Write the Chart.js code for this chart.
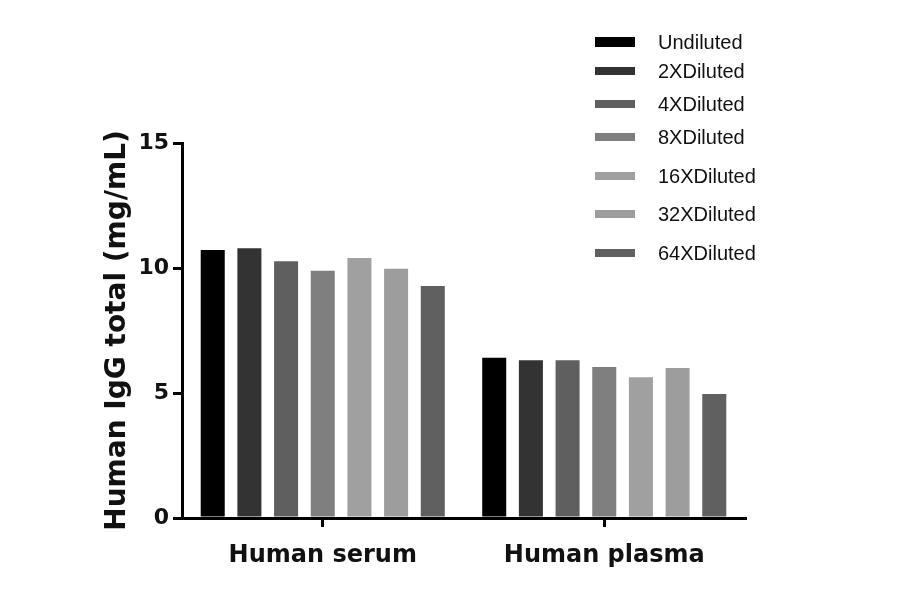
<!DOCTYPE html>
<html>
<head>
<meta charset="utf-8">
<script src="https://cdn.jsdelivr.net/npm/chart.js@4.4.1/dist/chart.umd.min.js"></script>
<style>
  html, body { margin: 0; padding: 0; background: #ffffff; }
  #wrap { width: 900px; height: 594px; position: relative; }
</style>
</head>
<body>
<div id="wrap"><canvas id="c" width="900" height="594"></canvas></div>
<script>
const categories = ["Human serum", "Human plasma"];
const seriesNames = ["Undiluted", "2XDiluted", "4XDiluted", "8XDiluted", "16XDiluted", "32XDiluted", "64XDiluted"];
const seriesColors = ["#000000", "#333333", "#5f5f5f", "#7f7f7f", "#a0a0a0", "#9d9d9d", "#606060"];
const undiluted = [10.72, 6.41];
const diluted2x = [10.79, 6.31];
const diluted4x = [10.27, 6.31];
const diluted8x = [9.89, 6.04];
const diluted16x = [10.40, 5.63];
const diluted32x = [9.97, 6.00];
const diluted64x = [9.28, 4.96];
const yTicks = [0, 5, 10, 15];
const yTitle = "Human IgG total (mg/mL)";

const seriesValues = [undiluted, diluted2x, diluted4x, diluted8x, diluted16x, diluted32x, diluted64x];

const legendPlugin = {
  id: 'customLegend',
  afterDraw(chart) {
    const ctx = chart.ctx;
    ctx.save();
    const x0 = 595, boxW = 40, textX = 658;
    const rowY = [42, 71, 104, 137, 176, 214, 253];
    ctx.font = '20px "Liberation Sans", Arial, sans-serif';
    ctx.textBaseline = 'middle';
    ctx.textAlign = 'left';
    chart.data.datasets.forEach((ds, i) => {
      const y = rowY[i];
      ctx.fillStyle = ds.backgroundColor;
      const h = i === 0 ? 10 : 8;
      ctx.fillRect(x0, y - h / 2, boxW, h);
      ctx.fillStyle = '#111111';
      ctx.fillText(ds.label, textX, y + 1);
    });
    ctx.restore();
  }
};

new Chart(document.getElementById('c'), {
  type: 'bar',
  data: {
    labels: categories,
    datasets: seriesNames.map((name, i) => ({
      label: name,
      data: seriesValues[i],
      backgroundColor: seriesColors[i],
      borderWidth: 0,
      categoryPercentage: 0.912,
      barPercentage: 0.655
    }))
  },
  options: {
    responsive: false,
    animation: false,
    devicePixelRatio: 1,
    layout: { padding: { top: 143, right: 155, left: 0, bottom: 0 } },
    plugins: {
      legend: { display: false },
      tooltip: { enabled: false }
    },
    scales: {
      x: {
        afterFit(scale) { scale.height = 76; },
        grid: { display: true, drawOnChartArea: false, drawTicks: true, tickLength: 9, offset: false, color: '#000', lineWidth: 3 },
        border: { display: true, color: '#000', width: 3 },
        ticks: { color: '#111', padding: 14, font: { family: '"DejaVu Sans", sans-serif', weight: 'bold', size: 24 } }
      },
      y: {
        min: 0, max: 15,
        afterFit(scale) { scale.width = 182; },
        afterBuildTicks(scale) { scale.ticks = yTicks.map(v => ({ value: v })); },
        grid: { display: true, drawOnChartArea: false, drawTicks: true, tickLength: 9, color: '#000', lineWidth: 3 },
        border: { display: true, color: '#000', width: 3 },
        ticks: { color: '#111', padding: 4, font: { family: '"DejaVu Sans", sans-serif', weight: 'bold', size: 22 } },
        title: {
          display: true, text: yTitle, color: '#111',
          padding: { top: 101, bottom: 0 },
          font: { family: '"DejaVu Sans", sans-serif', weight: 'bold', size: 28 }
        }
      }
    }
  },
  plugins: [legendPlugin]
});
</script>
</body>
</html>
